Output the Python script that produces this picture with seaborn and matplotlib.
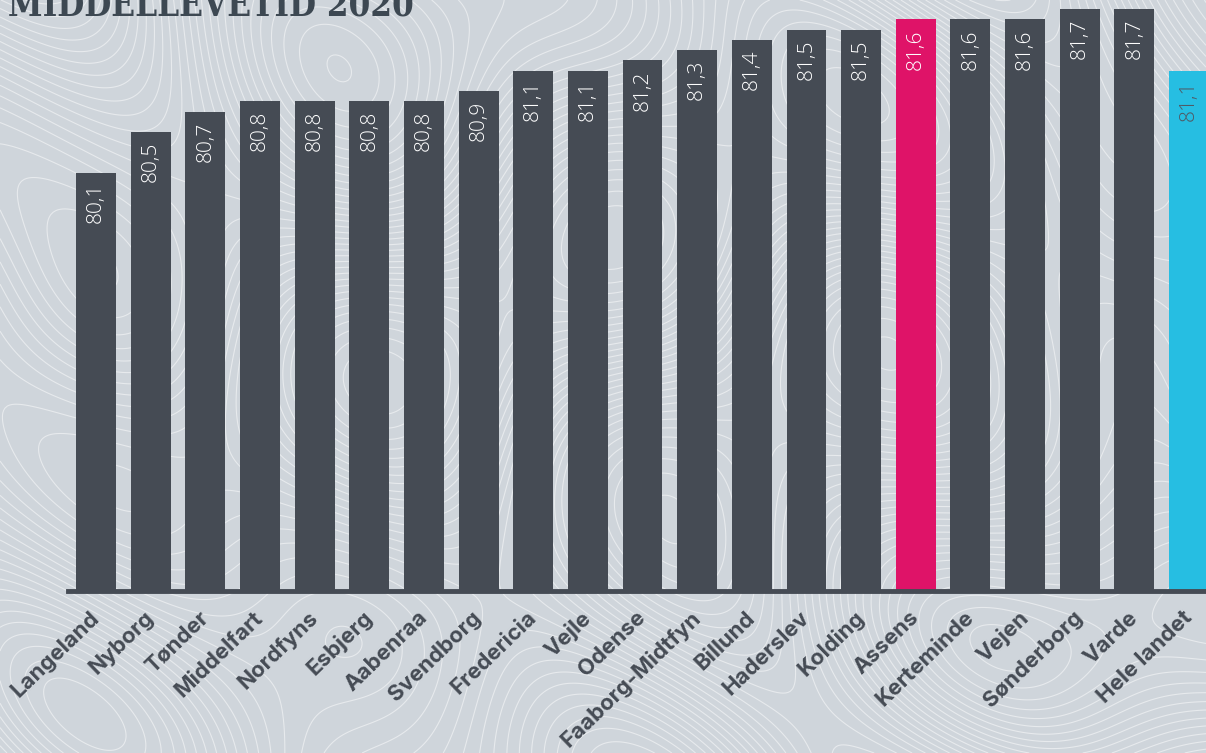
import numpy as np
import pandas as pd
import matplotlib
matplotlib.use("Agg")
import matplotlib.pyplot as plt
import seaborn as sns

# data
kommuner = ["Langeland", "Nyborg", "Tønder", "Middelfart", "Nordfyns", "Esbjerg",
            "Aabenraa", "Svendborg", "Fredericia", "Vejle", "Odense", "Faaborg-Midtfyn",
            "Billund", "Haderslev", "Kolding", "Assens", "Kerteminde", "Vejen",
            "Sønderborg", "Varde", "Hele landet"]
levetid = [80.1, 80.5, 80.7, 80.8, 80.8, 80.8, 80.8, 80.9, 81.1, 81.1, 81.2, 81.3,
           81.4, 81.5, 81.5, 81.6, 81.6, 81.6, 81.7, 81.7, 81.1]
title = "MIDDELLEVETID 2020"

bg = "#cfd5db"
dark = "#454b54"
pink = "#df1368"
cyan = "#26bee2"

colors = [dark] * len(kommuner)
colors[kommuner.index("Assens")] = pink
colors[kommuner.index("Hele landet")] = cyan

df = pd.DataFrame({"kommune": kommuner, "levetid": levetid})

sns.set_style("white")
plt.rcParams["font.family"] = ["Inter", "DejaVu Sans"]

fig = plt.figure(figsize=(12.06, 7.53), dpi=100)
fig.patch.set_facecolor(bg)

# topographic texture in the background (decoration only)
bgax = fig.add_axes([0, 0, 1, 1], zorder=0)
gx, gy = np.meshgrid(np.linspace(0, 12, 500), np.linspace(0, 7.5, 320))
field = (np.sin(gx * 0.9 + np.sin(gy * 0.7) * 1.6) + np.cos(gy * 1.1 - gx * 0.4)
         + 0.6 * np.sin(gx * 1.7 + gy * 1.3) + 0.4 * np.cos(gx * 0.5 * gy * 0.3 + 1.0))
bgax.contour(gx, gy, field, levels=36, colors="white", linewidths=0.8, alpha=0.5,
             negative_linestyles="solid")
bgax.set_axis_off()

ax = fig.add_axes([68 / 1206, (753 - 591) / 753, 1 - 68 / 1206, 591 / 753], zorder=1)
ax.patch.set_alpha(0)
sns.barplot(data=df, x="kommune", y="levetid", hue="kommune", palette=colors,
            legend=False, width=0.73, saturation=1, linewidth=0, edgecolor="none", ax=ax)

ax.set_ylim(76.02, 81.79)
ax.set_xlim(-0.512, 20.31)
ax.set_xlabel("")
ax.set_ylabel("")
ax.set_yticks([])
for s in ["top", "right", "left"]:
    ax.spines[s].set_visible(False)
ax.spines["bottom"].set_color(dark)
ax.spines["bottom"].set_linewidth(3.5)
ax.tick_params(axis="x", length=0, pad=17)
ax.set_xticks(range(len(kommuner)))
ax.set_xticklabels(kommuner, rotation=44, ha="right", va="center",
                   rotation_mode="anchor", fontsize=16, fontweight="bold", color=dark)

for i, v in enumerate(levetid):
    txtcol = "#4f5a66" if kommuner[i] == "Hele landet" else "white"
    ax.annotate(f"{v:.1f}".replace(".", ","), (i, v), xytext=(0, -7),
                textcoords="offset points", rotation=90, ha="center", va="top",
                fontsize=15, fontweight="light", family=["Open Sans", "DejaVu Sans"],
                color=txtcol)

fig.text(8 / 1206, 1 - 16 / 753, title, fontsize=25, fontweight="bold",
         family="DejaVu Serif", fontstretch="condensed", color="#3d4852",
         va="baseline", ha="left")

fig.savefig("out.png", dpi=100, facecolor=bg)
